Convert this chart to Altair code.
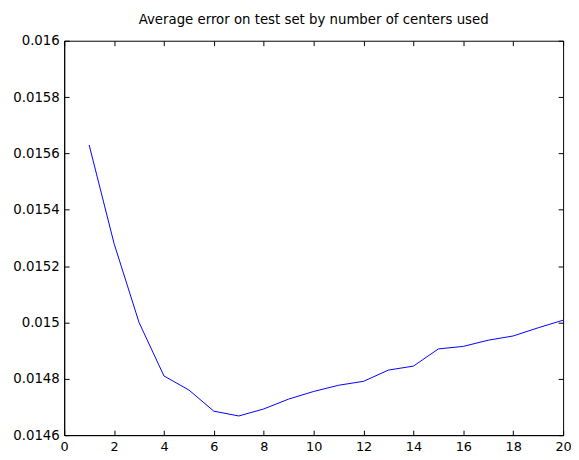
import altair as alt
import pandas as pd

centers = list(range(1, 21))
avg_error = [0.01563, 0.01528, 0.01500, 0.01481, 0.01476, 0.014685, 0.014668,
             0.014693, 0.014728, 0.014755, 0.014777, 0.014791, 0.014831, 0.014845,
             0.014906, 0.014915, 0.014937, 0.014952, 0.014981, 0.015008]
x_ticks = list(range(0, 21, 2))
y_ticks = [0.0146, 0.0148, 0.015, 0.0152, 0.0154, 0.0156, 0.0158, 0.016]

df = pd.DataFrame({"n": centers, "err": avg_error})

W, H = 506, 400
FONT = "DejaVu Sans"
xs = alt.Scale(domain=[0, 20], nice=False, zero=False)
ys = alt.Scale(domain=[0.0146, 0.016], nice=False, zero=False)

base = alt.Chart(df)

main = base.mark_line(color="#0000ff", strokeWidth=1).encode(
    x=alt.X("n:Q", scale=xs,
            axis=alt.Axis(values=x_ticks, title=None, format="d", ticks=False,
                          labelPadding=6, labelFontSize=13, labelFont=FONT,
                          labelColor="#000000", domainColor="#000000",
                          grid=False, labelFlush=False)),
    y=alt.Y("err:Q", scale=ys,
            axis=alt.Axis(values=y_ticks, title=None, format=".4~f", ticks=False,
                          labelPadding=5, labelFontSize=13.5, labelFont=FONT,
                          labelColor="#000000", domainColor="#000000",
                          grid=False, labelFlush=False)),
)

def tick_axis(orient, values):
    return alt.Axis(orient=orient, values=values, title=None, labels=False,
                    domain=False, grid=False, ticks=True, tickSize=5,
                    tickColor="#000000", tickWidth=1, offset=-5)

ticks1 = base.mark_line(opacity=0).encode(
    x=alt.X("n:Q", scale=xs, axis=tick_axis("bottom", x_ticks)),
    y=alt.Y("err:Q", scale=ys, axis=tick_axis("left", y_ticks)),
)
ticks2 = base.mark_line(opacity=0).encode(
    x=alt.X("n:Q", scale=xs, axis=tick_axis("top", x_ticks)),
    y=alt.Y("err:Q", scale=ys, axis=tick_axis("right", y_ticks)),
)

chart = alt.layer(main, ticks1, ticks2).resolve_axis(
    x="independent", y="independent"
).properties(
    width=W, height=H,
    title=alt.TitleParams("Average error on test set by number of centers used",
                          fontSize=13.5, font=FONT, fontWeight="normal",
                          color="#000000", offset=7, anchor="middle"),
    autosize=alt.AutoSizeParams(type="none"),
    padding={"left": 57, "top": 30, "right": 8, "bottom": 20},
).configure_view(stroke="#000000", strokeWidth=1)

chart.save("out.html", embed_options={"renderer": "svg", "actions": False})
